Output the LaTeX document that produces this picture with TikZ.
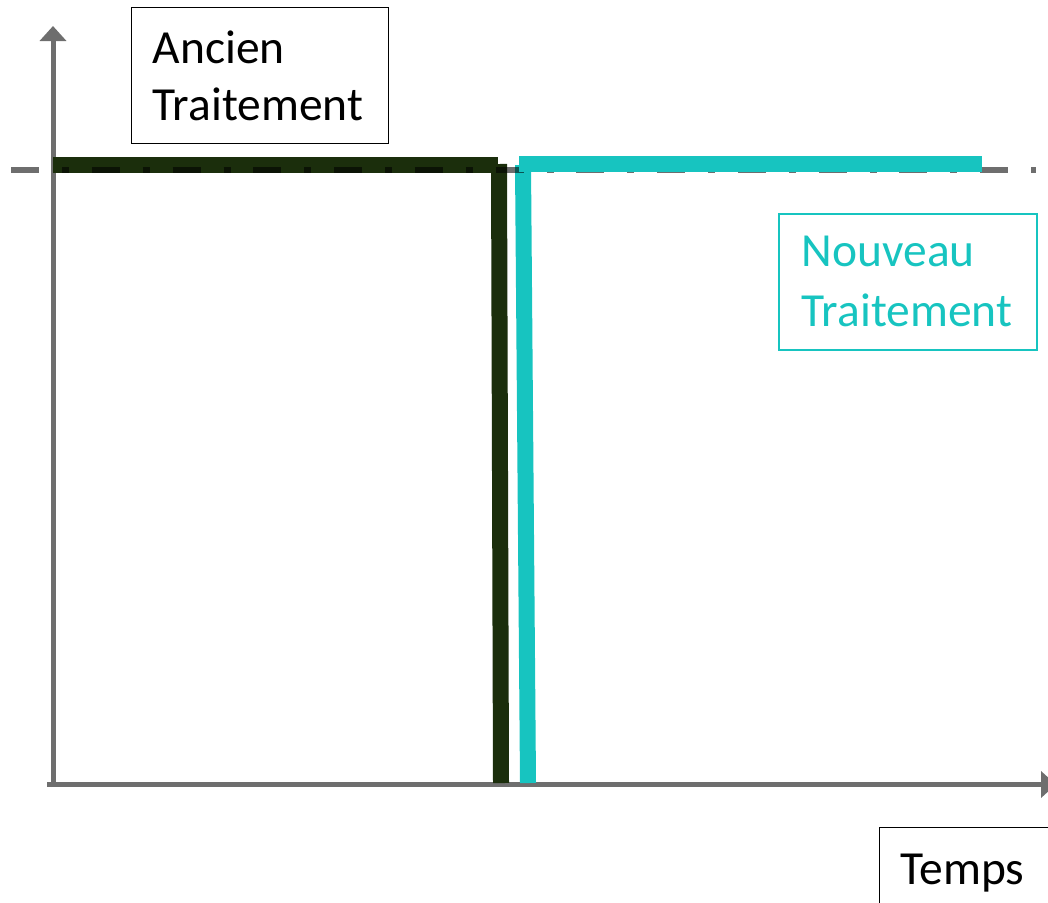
\documentclass[tikz,border=0pt]{standalone}
\usepackage{fontspec}
\setmainfont{Carlito}
\usetikzlibrary{arrows.meta}
\definecolor{axisgray}{HTML}{6E6E6E}
\definecolor{oldgreen}{HTML}{1B2E0C}
\definecolor{newcyan}{HTML}{17C4C0}
\begin{document}
\begin{tikzpicture}[x=1pt,y=-1pt,
  axis/.style={draw=axisgray, line width=5pt, -{Triangle[width=26pt,length=15pt]}},
  oldline/.style={draw=oldgreen, line width=16pt},
  newline/.style={draw=newcyan, line width=16pt},
  refline/.style={draw=axisgray, line width=6pt, dash pattern=on 28pt off 23pt on 7pt off 22.75pt},
  labelbox/.style={draw, line width=1.3pt, anchor=north west, align=left, inner ysep=0pt,
    font=\fontsize{47.5}{56.6}\selectfont},
]
\useasboundingbox (0,0) rectangle (1048,902);
% coordinates
\coordinate (yb) at (53,787);
\coordinate (yt) at (53,26);
\coordinate (xl) at (47,784.5);
\coordinate (xr) at (1056,784.5);
\coordinate (r1) at (11,170);
\coordinate (r2) at (1036,170);
\coordinate (g1) at (53,164.5);
\coordinate (g2) at (498,164.5);
\coordinate (g3) at (499,164);
\coordinate (g4) at (501,783);
\coordinate (c1) at (519,164);
\coordinate (c2) at (982,164);
\coordinate (c3) at (523,165);
\coordinate (c4) at (528,783);
% axes
\draw[axis] (yb) -- (yt);
\draw[axis] (xl) -- (xr);
% old treatment
\draw[oldline] (g1) -- (g2);
\draw[oldline] (g3) -- (g4);
% new treatment vertical
\draw[newline] (c3) -- (c4);
% reference dash-dot line
\begin{scope}[blend mode=multiply]
\draw[refline] (r1) -- (r2);
\end{scope}
% new treatment horizontal
\draw[newline] (c1) -- (c2);
% labels
\node[labelbox, minimum width=257pt, minimum height=136pt, text width=215pt, inner xsep=21pt]
  (ancien) at (131,7) {Ancien\\Traitement};
\node[labelbox, draw=newcyan, text=newcyan, line width=1.5pt, minimum width=258pt, minimum height=136pt,
  text width=212pt, inner xsep=23pt, font=\fontsize{47.5}{60}\selectfont]
  (nouveau) at (778,213) {Nouveau\\Traitement};
\node[labelbox, minimum height=90pt, text width=150pt, inner xsep=21pt]
  (temps) at (879,827) {Temps};
\end{tikzpicture}
\end{document}
